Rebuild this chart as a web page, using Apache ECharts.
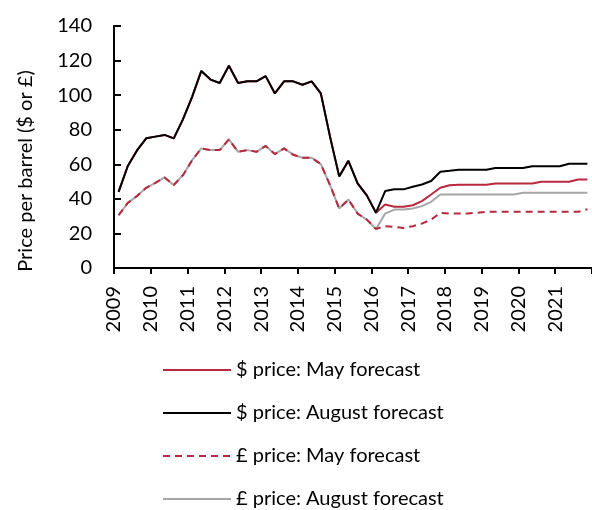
<!DOCTYPE html>
<html>
<head>
<meta charset="utf-8">
<style>
  html, body { margin: 0; padding: 0; background: #fff; }
  #main { width: 592px; height: 510px; }
</style>
<script src="https://cdn.jsdelivr.net/npm/echarts@6/dist/echarts.min.js"></script>
</head>
<body>
<div id="main"></div>
<script>
// quarters from 2009 Q1 to 2021 Q4
var firstYear = 2009;
var lastYear = 2021;

var dollarMay = [
    44, 59, 68, 75,
    76, 77, 75, 86,
    99, 114, 109, 107,
    117, 107, 108, 108,
    111, 101, 108, 108,
    106, 108, 101, 76,
    53, 62, 49, 42,
    32, 36.7, 35.4, 35.4,
    36.3, 38.7, 42.5, 46.4,
    47.9, 48.2, 48.2, 48.2,
    48.2, 48.9, 48.9, 48.9,
    48.9, 48.9, 49.9, 49.9,
    49.9, 49.9, 51.2, 51.2
];
var dollarAug = [
    44, 59, 68, 75,
    76, 77, 75, 86,
    99, 114, 109, 107,
    117, 107, 108, 108,
    111, 101, 108, 108,
    106, 108, 101, 76,
    53, 62, 49, 42,
    32, 44.5, 45.5, 45.5,
    47, 48.3, 50.3, 55.7,
    56.2, 56.9, 56.9, 56.9,
    56.9, 57.8, 57.8, 57.8,
    57.8, 58.9, 58.9, 58.9,
    58.9, 60.3, 60.3, 60.3
];
var poundMay = [
    30.5, 37.7, 41.6, 46.4,
    49.3, 52.4, 48, 53.7,
    62.4, 69.2, 68.2, 68.2,
    74.4, 67.2, 68.2, 67.2,
    70.6, 65.9, 69.2, 65.5,
    63.8, 63.8, 60.1, 48,
    34.4, 39.6, 31.5, 28,
    22.6, 24.2, 23.8, 23.2,
    24.2, 25.7, 28, 31.9,
    31.5, 31.5, 31.5, 32,
    32.5, 32.5, 32.5, 32.5,
    32.5, 32.5, 32.5, 32.5,
    32.5, 32.5, 32.5, 34
];
var poundAug = [
    30.5, 37.7, 41.6, 46.4,
    49.3, 52.4, 48, 53.7,
    62.4, 69.2, 68.2, 68.2,
    74.4, 67.2, 68.2, 67.2,
    70.6, 65.9, 69.2, 65.5,
    63.8, 63.8, 60.1, 48,
    34.4, 39.6, 31.5, 28,
    22.6, 31.5, 33.8, 33.8,
    34.4, 35.8, 38.3, 42.5,
    42.5, 42.5, 42.5, 42.5,
    42.5, 42.5, 42.5, 42.5,
    43.5, 43.5, 43.5, 43.5,
    43.5, 43.5, 43.5, 43.5
];

var seriesNames = [
    '$ price: May forecast',
    '$ price: August forecast',
    '\u00a3 price: May forecast',
    '\u00a3 price: August forecast'
];

// each quarter sits in the middle of its quarter on the year axis
function toPoints(values) {
    var pts = [];
    for (var i = 0; i < values.length; i++) {
        var year = firstYear + Math.floor(i / 4);
        var q = i % 4 + 1;
        pts.push([year + (q - 0.5) / 4, values[i]]);
    }
    return pts;
}

var fontName = 'Lato, "Open Sans", sans-serif';
var red = '#b8283e';

var myChart = echarts.init(document.getElementById('main'));

var option = {
    animation: false,
    textStyle: { fontFamily: fontName, color: '#000' },
    grid: {
        left: 114,
        top: 26,
        right: -6,
        bottom: 242
    },
    legend: {
        orient: 'vertical',
        left: 162,
        top: 360,
        height: 150,
        padding: 0,
        itemWidth: 68,
        itemHeight: 14,
        itemGap: 23,
        itemStyle: { opacity: 0 },
        data: seriesNames,
        textStyle: { fontFamily: fontName, fontSize: 20, color: '#000', lineHeight: 20 }
    },
    xAxis: {
        type: 'value',
        min: firstYear,
        max: lastYear + 1,
        interval: 1,
        splitLine: { show: false },
        axisLine: { lineStyle: { color: '#000', width: 2 } },
        axisTick: { show: true, length: 6, lineStyle: { color: '#000', width: 2 } },
        axisLabel: {
            rotate: 90,
            margin: 18,
            fontSize: 20,
            fontFamily: fontName,
            color: '#000',
            formatter: function (v) {
                return v <= lastYear ? String(v) : '';
            }
        }
    },
    yAxis: {
        type: 'value',
        min: 0,
        max: 140,
        interval: 20,
        name: 'Price per barrel ($ or \u00a3)',
        nameLocation: 'middle',
        nameGap: 78,
        nameTextStyle: { fontSize: 20, fontFamily: fontName, color: '#000', padding: [0, 48, 0, 0] },
        splitLine: { show: false },
        axisLine: { show: true, lineStyle: { color: '#000', width: 2 } },
        axisTick: { show: true, inside: true, length: 7, lineStyle: { color: '#000', width: 2 } },
        axisLabel: { margin: 22, fontSize: 20, fontFamily: fontName, color: '#000' }
    },
    series: [
        {
            name: seriesNames[0],
            type: 'line',
            symbol: 'none',
            z: 2,
            data: toPoints(dollarMay),
            lineStyle: { color: red, width: 2 },
            itemStyle: { color: red }
        },
        {
            name: seriesNames[1],
            type: 'line',
            symbol: 'none',
            z: 3,
            data: toPoints(dollarAug),
            lineStyle: { color: '#000', width: 2 },
            itemStyle: { color: '#000' }
        },
        {
            name: seriesNames[2],
            type: 'line',
            symbol: 'none',
            z: 5,
            data: toPoints(poundMay),
            lineStyle: { color: red, width: 2, type: [7, 5] },
            itemStyle: { color: red }
        },
        {
            name: seriesNames[3],
            type: 'line',
            symbol: 'none',
            z: 4,
            data: toPoints(poundAug),
            lineStyle: { color: '#a6a6a6', width: 2 },
            itemStyle: { color: '#a6a6a6' }
        }
    ]
};

myChart.setOption(option);
</script>
</body>
</html>
